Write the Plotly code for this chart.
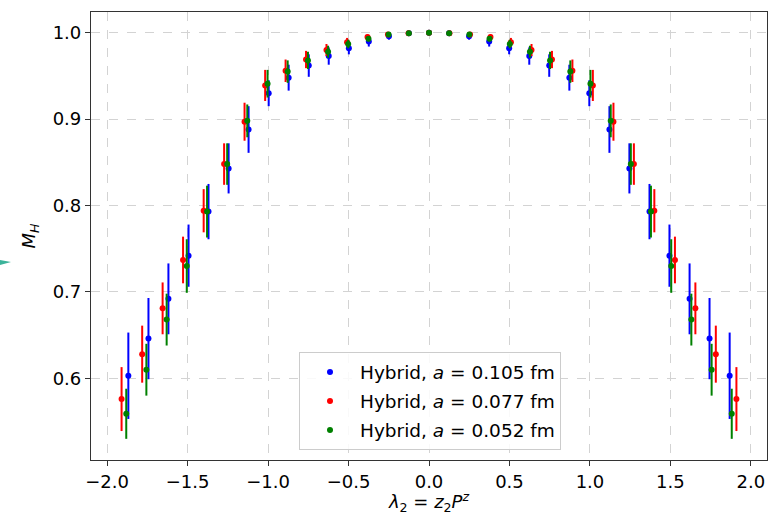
import plotly.graph_objects as go

# x positions (lambda_2) for each lattice spacing
x_105 = [-1.868, -1.743, -1.619, -1.494, -1.370, -1.245, -1.121, -0.996, -0.872, -0.747, -0.623, -0.498, -0.374, -0.249, -0.125, 0.0,
         0.125, 0.249, 0.374, 0.498, 0.623, 0.747, 0.872, 0.996, 1.121, 1.245, 1.370, 1.494, 1.619, 1.743, 1.868]
x_077 = [-1.910, -1.782, -1.655, -1.528, -1.400, -1.273, -1.146, -1.018, -0.891, -0.764, -0.637, -0.509, -0.382, -0.255, -0.127, 0.0,
         0.127, 0.255, 0.382, 0.509, 0.637, 0.764, 0.891, 1.018, 1.146, 1.273, 1.400, 1.528, 1.655, 1.782, 1.910]
x_052 = [-1.881, -1.756, -1.630, -1.505, -1.379, -1.254, -1.129, -1.003, -0.878, -0.752, -0.627, -0.502, -0.376, -0.251, -0.125, 0.0,
         0.125, 0.251, 0.376, 0.502, 0.627, 0.752, 0.878, 1.003, 1.129, 1.254, 1.379, 1.505, 1.630, 1.756, 1.881]

# M_H values
y_105 = [0.603, 0.646, 0.692, 0.742, 0.793, 0.843, 0.888, 0.930, 0.948, 0.962, 0.973, 0.982, 0.990, 0.996, 0.9995, 1.0,
         0.9995, 0.996, 0.990, 0.982, 0.973, 0.962, 0.948, 0.930, 0.888, 0.843, 0.793, 0.742, 0.692, 0.646, 0.603]
e_105 = [0.050, 0.047, 0.041, 0.036, 0.032, 0.029, 0.027, 0.015, 0.015, 0.013, 0.010, 0.007, 0.006, 0.004, 0.001, 0.0,
         0.001, 0.004, 0.006, 0.007, 0.010, 0.013, 0.015, 0.015, 0.027, 0.029, 0.032, 0.036, 0.041, 0.047, 0.050]

y_077 = [0.576, 0.628, 0.681, 0.737, 0.794, 0.848, 0.897, 0.939, 0.956, 0.969, 0.980, 0.989, 0.995, 0.998, 0.9995, 1.0,
         0.9995, 0.998, 0.995, 0.989, 0.980, 0.969, 0.956, 0.939, 0.897, 0.848, 0.794, 0.737, 0.681, 0.628, 0.576]
e_077 = [0.037, 0.033, 0.030, 0.027, 0.025, 0.024, 0.022, 0.018, 0.013, 0.010, 0.007, 0.005, 0.003, 0.002, 0.001, 0.0,
         0.001, 0.002, 0.003, 0.005, 0.007, 0.010, 0.013, 0.018, 0.022, 0.024, 0.025, 0.027, 0.030, 0.033, 0.037]

y_052 = [0.559, 0.610, 0.668, 0.730, 0.793, 0.848, 0.898, 0.941, 0.955, 0.968, 0.978, 0.987, 0.993, 0.998, 0.9995, 1.0,
         0.9995, 0.998, 0.993, 0.987, 0.978, 0.968, 0.955, 0.941, 0.898, 0.848, 0.793, 0.730, 0.668, 0.610, 0.559]
e_052 = [0.029, 0.030, 0.030, 0.031, 0.030, 0.024, 0.019, 0.016, 0.013, 0.010, 0.007, 0.005, 0.003, 0.002, 0.001, 0.0,
         0.001, 0.002, 0.003, 0.005, 0.007, 0.010, 0.013, 0.016, 0.019, 0.024, 0.030, 0.031, 0.030, 0.030, 0.029]

series = [
    ("Hybrid, <i>a</i> = 0.105 fm", x_105, y_105, e_105, "blue"),
    ("Hybrid, <i>a</i> = 0.077 fm", x_077, y_077, e_077, "red"),
    ("Hybrid, <i>a</i> = 0.052 fm", x_052, y_052, e_052, "green"),
]

x_ticks = [-2.0, -1.5, -1.0, -0.5, 0.0, 0.5, 1.0, 1.5, 2.0]
x_tick_labels = ["\u22122.0", "\u22121.5", "\u22121.0", "\u22120.5", "0.0", "0.5", "1.0", "1.5", "2.0"]
y_ticks = [0.6, 0.7, 0.8, 0.9, 1.0]
y_tick_labels = ["0.6", "0.7", "0.8", "0.9", "1.0"]

FONT = "DejaVu Sans"
fig = go.Figure()
for i, (name, xs, ys, es, col) in enumerate(series):
    fig.add_trace(go.Scatter(
        x=xs, y=ys, mode="markers", name=name, legendgroup=f"g{i}",
        marker=dict(color=col, size=6),
        error_y=dict(type="data", array=es, visible=True, color=col, thickness=2, width=0),
    ))

axis_common = dict(
    showline=True, linecolor="#333333", linewidth=1.2, mirror=True,
    ticks="outside", ticklen=5, tickwidth=1.2, tickcolor="#333333",
    showgrid=True, gridcolor="#d3d3d3", gridwidth=1, griddash="dash",
    zeroline=False, tickfont=dict(family=FONT, size=18, color="black"),
)

fig.update_layout(
    width=768, height=515,
    margin=dict(l=91, r=1, t=12, b=55),
    paper_bgcolor="white", plot_bgcolor="white",
    font=dict(family=FONT, size=18, color="black"),
    xaxis=dict(range=[-2.1, 2.1], tickvals=x_ticks, ticktext=x_tick_labels,
               title=dict(text="<i>λ</i><sub>2</sub> = <i>z</i><sub>2</sub><i>P</i><sup><i>z</i></sup>",
                          font=dict(family=FONT, size=18), standoff=4),
               **axis_common),
    yaxis=dict(range=[0.5055, 1.024], tickvals=y_ticks, ticktext=y_tick_labels,
               title=dict(text="<i>M</i><sub><i>H</i></sub>", font=dict(family=FONT, size=18), standoff=12),
               **axis_common),
    legend=dict(x=0.3077, y=0.24, xanchor="left", yanchor="top",
                bgcolor="rgba(255,255,255,0.85)", bordercolor="#cccccc", borderwidth=1,
                itemwidth=50, tracegroupgap=2,
                font=dict(family=FONT, size=18.5)),
    showlegend=True,
)

# small teal wedge at the left edge of the picture
fig.add_shape(type="path", xref="paper", yref="paper",
              path="M -0.1346 0.4462 L -0.1183 0.4418 L -0.1346 0.4351 Z",
              fillcolor="#3cb39a", line=dict(width=0))

fig.write_html("out.html")
